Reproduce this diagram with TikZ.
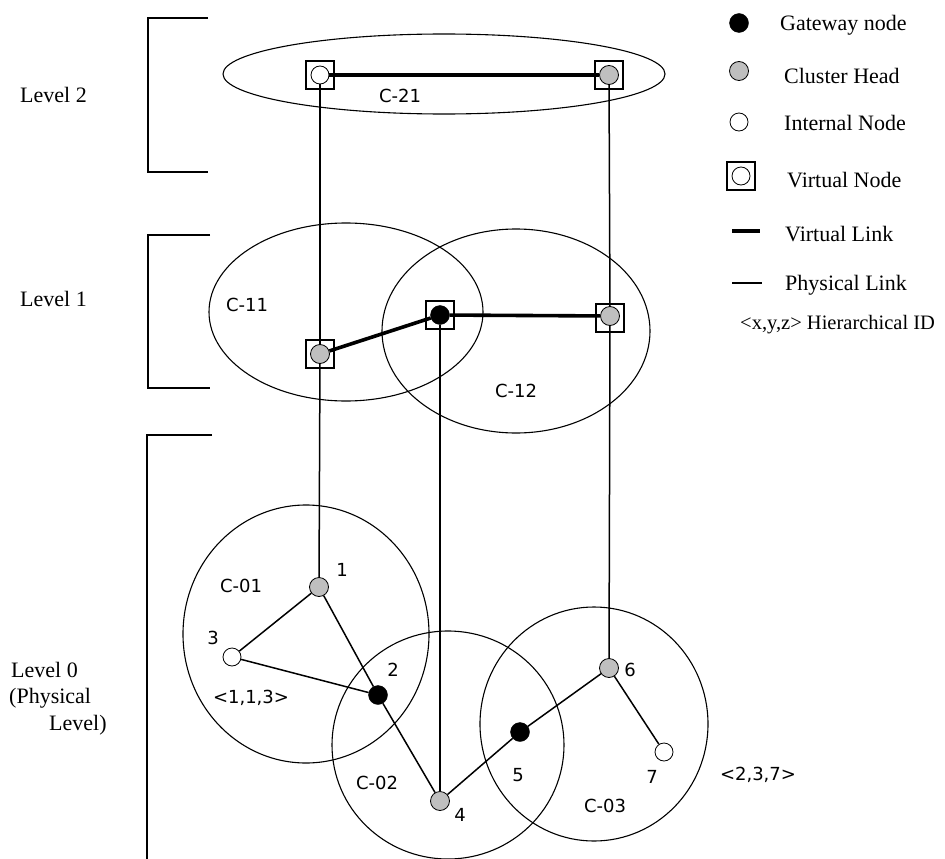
\documentclass[tikz,border=0pt]{standalone}
\usepackage{fontspec}
\setmainfont{Liberation Serif}
\newfontfamily\lblfont{DejaVu Sans}
\begin{document}
\begin{tikzpicture}[x=1pt,y=-1pt,
  phys/.style={line width=1.5pt},
  virt/.style={line width=3.6pt},
  brk/.style={line width=1.7pt},
  clus/.style={line width=1.1pt},
  gw/.style={circle, fill=black, draw=black, inner sep=0pt, minimum size=19pt},
  ch/.style={circle, fill=black!25, draw=black, line width=0.8pt, inner sep=0pt, minimum size=19pt},
  inn/.style={circle, fill=white, draw=black, line width=0.8pt, inner sep=0pt, minimum size=18pt},
  vbox/.style={draw, line width=1.3pt, minimum size=28pt, inner sep=0pt},
  lbl/.style={font=\lblfont\fontsize{18}{20}\selectfont, inner sep=0pt},
  txt/.style={font=\fontsize{22}{24}\selectfont, inner sep=0pt, anchor=west}]
\useasboundingbox (0,0) rectangle (945,859);

% level brackets
\draw[brk] (208,18) -- (148,18) -- (148,172) -- (208,172);
\draw[brk] (210,235) -- (148,235) -- (148,388) -- (210,388);
\draw[brk] (212,435) -- (147,435) -- (147,859);
\node[txt] (lv2) at (20,95) {Level 2};
\node[txt] (lv1) at (20,299) {Level 1};
\node[txt] (lv0a) at (11,670) {Level 0};
\node[txt] (lv0b) at (9,698) {(Physical};
\node[txt] (lv0c) at (49,725) {Level)};

% clusters
\draw[clus] (444,74) ellipse [x radius=221, y radius=40];
\draw[clus] (346,312) ellipse [x radius=137, y radius=89];
\draw[clus] (516,331) ellipse [x radius=134, y radius=102];
\draw[clus] (306,634) ellipse [x radius=123, y radius=129];
\draw[clus] (448,745) ellipse [x radius=116, y radius=114];
\draw[clus] (594,724) ellipse [x radius=114, y radius=117];

\node[lbl] (c21) at (400,96) {C-21};
\node[lbl] (c11) at (247,305) {C-11};
\node[lbl] (c12) at (516,391) {C-12};
\node[lbl] (c01) at (241,586) {C-01};
\node[lbl] (c02) at (377,783) {C-02};
\node[lbl] (c03) at (605,806) {C-03};

% level 2 virtual nodes
\node[inn] (a21) at (320,75) {};
\node[vbox] (ba21) at (320,75) {};
\node[ch] (b21) at (609,75) {};
\node[vbox] (bb21) at (609,75) {};

% level 1 virtual nodes
\node[ch] (a11) at (320,354) {};
\node[vbox] (ba11) at (320,354) {};
\node[gw] (a12) at (440,315) {};
\node[vbox] (ba12) at (440,315) {};
\node[ch] (b12) at (610,316) {};
\node[vbox] (bb12) at (610,318) {};

% level 0 nodes
\node[ch] (n1) at (319,587) {};
\node[gw] (n2) at (378,695) {};
\node[inn] (n3) at (232,657) {};
\node[ch] (n4) at (440,801) {};
\node[gw] (n5) at (520,732) {};
\node[ch] (n6) at (609,668) {};
\node[inn] (n7) at (664,752) {};

\node[lbl] (t1) at (342,570) {1};
\node[lbl] (t2) at (393,670) {2};
\node[lbl] (t3) at (213,638) {3};
\node[lbl] (t4) at (460,815) {4};
\node[lbl] (t5) at (518,775) {5};
\node[lbl] (t6) at (630,670) {6};
\node[lbl] (t7) at (652,777) {7};
\node[lbl] (id1) at (251,698) {<1,1,3>};
\node[lbl] (id2) at (758,775) {<2,3,7>};

% virtual links
\draw[virt] (a21) -- (b21);
\draw[virt] (a11) -- (a12);
\draw[virt] (a12) -- (b12);

% physical links
\draw[phys] (a21) -- (a11);
\draw[phys] (a11) -- (n1);
\draw[phys] (b21) -- (b12);
\draw[phys] (b12) -- (n6);
\draw[phys] (a12) -- (n4);
\draw[phys] (n1) -- (n3);
\draw[phys] (n1) -- (n2);
\draw[phys] (n3) -- (n2);
\draw[phys] (n2) -- (n4);
\draw[phys] (n4) -- (n5);
\draw[phys] (n5) -- (n6);
\draw[phys] (n6) -- (n7);

% legend
\node[gw] (lg1) at (739,23) {};
\node[txt] (lt1) at (780,25) {Gateway node};
\node[ch] (lg2) at (739,71) {};
\node[txt] (lt2) at (784,76) {Cluster Head};
\node[inn] (lg3) at (739,122) {};
\node[txt] (lt3) at (784,123) {Internal Node};
\node[inn] (lg4) at (741,176) {};
\node[vbox] (lb4) at (741,176) {};
\node[txt] (lt4) at (787,180) {Virtual Node};
\coordinate (lv1s) at (732,231);
\coordinate (lv1e) at (760,231);
\draw[virt] (lv1s) -- (lv1e);
\node[txt] (lt5) at (785,234) {Virtual Link};
\coordinate (lp1s) at (732,283);
\coordinate (lp1e) at (762,283);
\draw[phys] (lp1s) -- (lp1e);
\node[txt] (lt6) at (785,285) {Physical Link};
\node[txt, font=\fontsize{20.5}{22}\selectfont] (lt7) at (740,325) {<x,y,z> Hierarchical ID};
\end{tikzpicture}
\end{document}
